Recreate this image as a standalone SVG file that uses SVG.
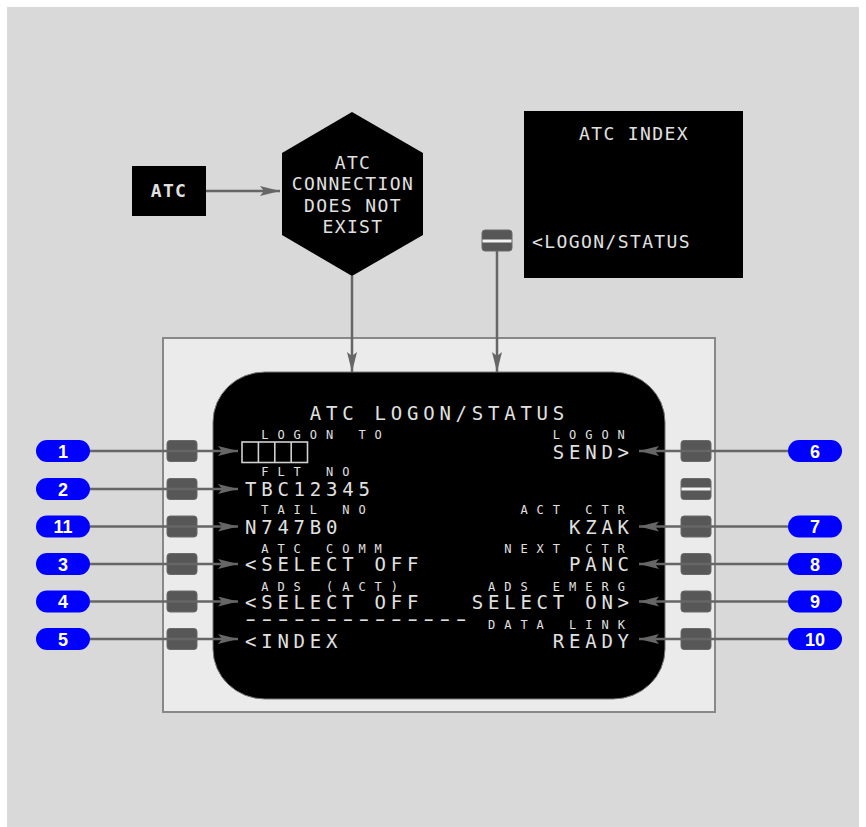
<svg xmlns="http://www.w3.org/2000/svg" width="866" height="827" viewBox="0 0 866 827">
<style>
.mono{font-family:"DejaVu Sans Mono","Liberation Mono",monospace;fill:#e0e0e0}
.lbl{font-size:18px;letter-spacing:1.4px}
.big{font-size:19px;letter-spacing:4.76px}
.dash{font-size:19px;letter-spacing:-1.315px}
.small{font-size:12px;letter-spacing:8.98px}
.key{fill:#575757;stroke:#6a6a6a;stroke-width:1}
.stripe{fill:#f2f2f2}
.pill{fill:#0000ff}
.num{font-family:"Liberation Sans",Arial,sans-serif;font-weight:bold;font-size:18px;fill:#ffffff;text-anchor:middle}
.conn{stroke:#666666;stroke-width:2.5;fill:none;marker-end:url(#arr)}
</style>
<defs>
<marker id="arr" markerUnits="userSpaceOnUse" markerWidth="21" markerHeight="11" refX="20" refY="5" orient="auto" viewBox="0 0 21 11">
<path d="M0,0 L20,5 L0,10 L4,5 z" fill="#666666"/>
</marker>
</defs>
<rect x="7" y="7" width="852" height="821" fill="#d9d9d9"/>

<g id="panel">
<rect x="163" y="338" width="552" height="374" fill="#ebebeb" stroke="#888888" stroke-width="2"/>
</g>

<g id="atc">
<rect x="132" y="166" width="74" height="50" fill="#000"/>
<text class="mono lbl" x="169" y="197" text-anchor="middle" font-weight="bold">ATC</text>
</g>

<g id="no-connection">
<polygon points="352,112 423,153 423,235 352,276 282,235 282,153" fill="#000"/>
<text class="mono lbl" x="353" y="168.5" text-anchor="middle">ATC</text>
<text class="mono lbl" x="353" y="190" text-anchor="middle">CONNECTION</text>
<text class="mono lbl" x="353" y="211.5" text-anchor="middle">DOES NOT</text>
<text class="mono lbl" x="353" y="232.5" text-anchor="middle">EXIST</text>
</g>

<g id="atc-index">
<rect x="524" y="111" width="219" height="167" fill="#000"/>
<text class="mono lbl" x="634" y="140" text-anchor="middle">ATC INDEX</text>
<text class="mono lbl" x="532" y="248">&lt;LOGON/STATUS</text>
</g>

<g id="index-key">
<rect class="key" x="482" y="230" width="30" height="21" rx="3"/>
<rect class="stripe" x="482.5" y="239.5" width="29" height="3"/>
</g>

<g id="screen">
<rect x="213" y="372" width="452" height="327" rx="52" ry="50" fill="#000" stroke="#777" stroke-width="1"/>
<text class="mono big" x="309.8" y="420">ATC LOGON/STATUS</text>
<text class="mono small" x="261.2" y="438.5">LOGON TO</text>
<text class="mono small" x="552.8" y="438.5">LOGON</text>
<g fill="none" stroke="#d0d0d0" stroke-width="1.6">
<rect x="242" y="442" width="65.5" height="20.5"/>
<line x1="258.4" y1="442" x2="258.4" y2="462.5"/>
<line x1="274.8" y1="442" x2="274.8" y2="462.5"/>
<line x1="291.2" y1="442" x2="291.2" y2="462.5"/>
</g>
<text class="mono big" x="552.8" y="458.5">SEND&gt;</text>
<text class="mono small" x="261.2" y="476">FLT NO</text>
<text class="mono big" x="245" y="496">TBC12345</text>
<text class="mono small" x="261.2" y="514">TAIL NO</text>
<text class="mono small" x="520.4" y="514">ACT CTR</text>
<text class="mono big" x="245" y="533.5">N747B0</text>
<text class="mono big" x="569" y="533.5">KZAK</text>
<text class="mono small" x="261.2" y="553">ATC COMM</text>
<text class="mono small" x="504.2" y="553">NEXT CTR</text>
<text class="mono big" x="245" y="571">&lt;SELECT OFF</text>
<text class="mono big" x="569" y="571">PANC</text>
<text class="mono small" x="261.2" y="591">ADS (ACT)</text>
<text class="mono small" x="488" y="591">ADS EMERG</text>
<text class="mono big" x="245" y="609">&lt;SELECT OFF</text>
<text class="mono big" x="471.8" y="609">SELECT ON&gt;</text>
<text class="mono dash" transform="scale(1.6,1)" x="151" y="626.5">--------------</text>
<text class="mono small" x="488" y="628.5">DATA LINK</text>
<text class="mono big" x="245" y="647.5">&lt;INDEX</text>
<text class="mono big" x="552.8" y="647.5">READY</text>
</g>

<g id="keys-left">
<rect class="key" x="167" y="440.5" width="30" height="21" rx="3"/>
<rect class="key" x="167" y="478.5" width="30" height="21" rx="3"/>
<rect class="key" x="167" y="516" width="30" height="21" rx="3"/>
<rect class="key" x="167" y="553.5" width="30" height="21" rx="3"/>
<rect class="key" x="167" y="591" width="30" height="21" rx="3"/>
<rect class="key" x="167" y="628.5" width="30" height="21" rx="3"/>
</g>
<g id="keys-right">
<rect class="key" x="681" y="440.5" width="30" height="21" rx="3"/>
<rect class="key" x="681" y="478.5" width="30" height="21" rx="3"/>
<rect class="stripe" x="681.5" y="487.5" width="29" height="3"/>
<rect class="key" x="681" y="516" width="30" height="21" rx="3"/>
<rect class="key" x="681" y="553.5" width="30" height="21" rx="3"/>
<rect class="key" x="681" y="591" width="30" height="21" rx="3"/>
<rect class="key" x="681" y="628.5" width="30" height="21" rx="3"/>
</g>

<g id="connectors">
<line class="conn" x1="206" y1="191" x2="280" y2="191"/>
<line class="conn" x1="352" y1="276" x2="352" y2="372"/>
<line class="conn" x1="497" y1="251" x2="497" y2="372"/>
<line class="conn" x1="90" y1="451" x2="238" y2="451"/>
<line class="conn" x1="90" y1="489" x2="238" y2="489"/>
<line class="conn" x1="90" y1="526.5" x2="238" y2="526.5"/>
<line class="conn" x1="90" y1="564" x2="238" y2="564"/>
<line class="conn" x1="90" y1="601.5" x2="238" y2="601.5"/>
<line class="conn" x1="90" y1="639" x2="238" y2="639"/>
<line class="conn" x1="788" y1="451" x2="639" y2="451"/>
<line class="conn" x1="788" y1="526.5" x2="639" y2="526.5"/>
<line class="conn" x1="788" y1="564" x2="639" y2="564"/>
<line class="conn" x1="788" y1="601.5" x2="639" y2="601.5"/>
<line class="conn" x1="788" y1="639" x2="639" y2="639"/>
</g>

<g id="callout-1"><rect class="pill" x="36" y="440" width="54" height="22" rx="11"/><text class="num" x="63" y="457.5">1</text></g>
<g id="callout-2"><rect class="pill" x="36" y="478" width="54" height="22" rx="11"/><text class="num" x="63" y="495.5">2</text></g>
<g id="callout-11"><rect class="pill" x="36" y="515.5" width="54" height="22" rx="11"/><text class="num" x="63" y="533">11</text></g>
<g id="callout-3"><rect class="pill" x="36" y="553" width="54" height="22" rx="11"/><text class="num" x="63" y="570.5">3</text></g>
<g id="callout-4"><rect class="pill" x="36" y="590.5" width="54" height="22" rx="11"/><text class="num" x="63" y="608">4</text></g>
<g id="callout-5"><rect class="pill" x="36" y="628" width="54" height="22" rx="11"/><text class="num" x="63" y="645.5">5</text></g>
<g id="callout-6"><rect class="pill" x="788" y="440" width="54" height="22" rx="11"/><text class="num" x="815" y="457.5">6</text></g>
<g id="callout-7"><rect class="pill" x="788" y="515.5" width="54" height="22" rx="11"/><text class="num" x="815" y="533">7</text></g>
<g id="callout-8"><rect class="pill" x="788" y="553" width="54" height="22" rx="11"/><text class="num" x="815" y="570.5">8</text></g>
<g id="callout-9"><rect class="pill" x="788" y="590.5" width="54" height="22" rx="11"/><text class="num" x="815" y="608">9</text></g>
<g id="callout-10"><rect class="pill" x="788" y="628" width="54" height="22" rx="11"/><text class="num" x="815" y="645.5">10</text></g>
</svg>
